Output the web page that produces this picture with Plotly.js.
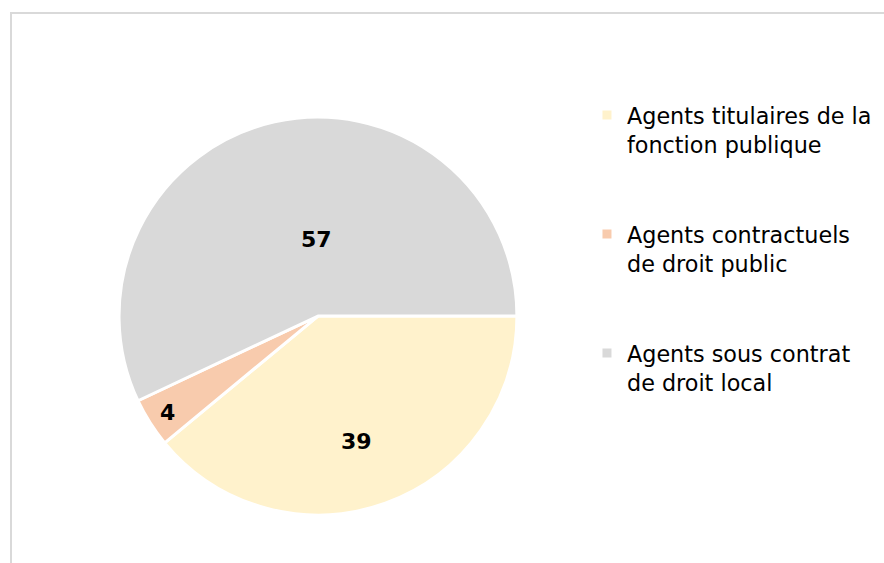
<!DOCTYPE html>
<html>
<head>
<meta charset="utf-8">
<script src="https://cdn.plot.ly/plotly-3.0.1.min.js"></script>
<style>
html,body{margin:0;padding:0;background:#fff;overflow:hidden;}
#frame{position:absolute;left:10px;top:12px;width:1000px;height:1000px;border-top:2px solid #d9d9d9;border-left:2px solid #d9d9d9;box-sizing:border-box;}
#chart{position:absolute;left:0;top:0;width:884px;height:563px;}
</style>
</head>
<body>
<div id="frame"></div>
<div id="chart"></div>
<script>
const categories = ["Agents titulaires de la<br>fonction publique", "Agents contractuels<br>de droit public", "Agents sous contrat<br>de droit local"];
const values = [39, 4, 57];
const colors = ["#FFF2CC", "#F8CBAD", "#D9D9D9"];
// label anchor points (paper fractions) for the data labels
const labelX = [0.4038, 0.19, 0.3575];
const labelY = [0.215, 0.268, 0.574];

const legendLabels = categories.map(c => c + "<br> <br> ");

const trace = {
  type: "pie",
  labels: legendLabels,
  values: values,
  sort: false,
  direction: "clockwise",
  rotation: 90,
  marker: {colors: colors, line: {color: "#ffffff", width: 3}},
  textinfo: "none",
  hoverinfo: "label+value",
  domain: {x: [0.1346, 0.5848], y: [0.0853, 0.792]}
};

const annotations = values.map((v, i) => ({
  xref: "paper", yref: "paper",
  x: labelX[i], y: labelY[i],
  xanchor: "center", yanchor: "middle",
  text: String(v), showarrow: false,
  font: {family: "DejaVu Sans", size: 22, color: "#000000", weight: "bold"}
}));

const layout = {
  width: 884, height: 563,
  margin: {l: 0, r: 0, t: 0, b: 0},
  paper_bgcolor: "rgba(0,0,0,0)",
  plot_bgcolor: "rgba(0,0,0,0)",
  showlegend: true,
  annotations: annotations,
  legend: {
    x: 0.664, xanchor: "left", y: 0.833, yanchor: "top",
    valign: "top",
    font: {family: "DejaVu Sans", size: 22.3, color: "#000000"},
    bgcolor: "rgba(0,0,0,0)"
  }
};

Plotly.newPlot("chart", [trace], layout, {displayModeBar: false, staticPlot: true});
</script>
</body>
</html>
